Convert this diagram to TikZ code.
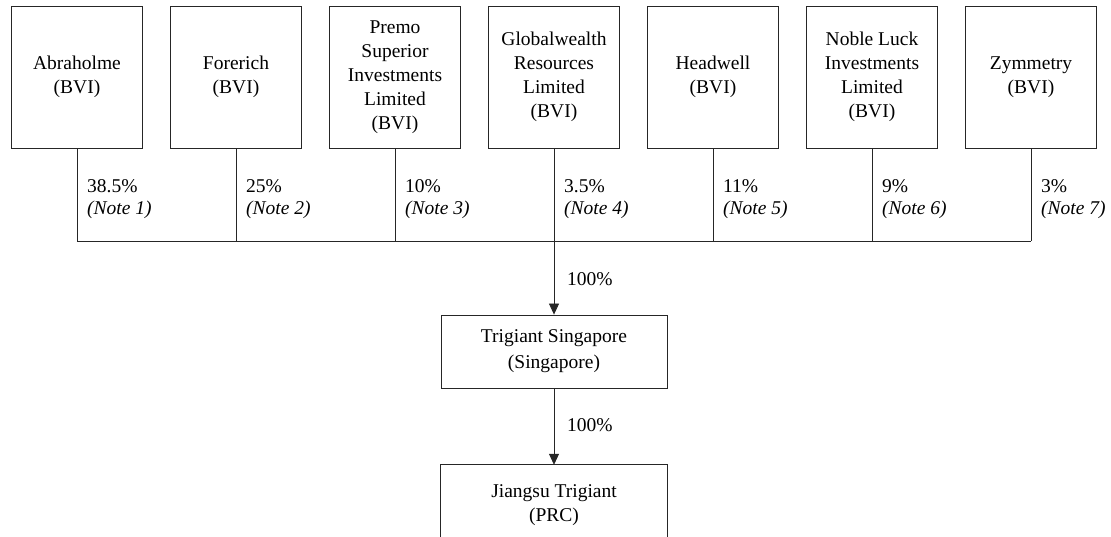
\documentclass[tikz,border=0pt]{standalone}
\usepackage{fontspec}
\setmainfont{Liberation Serif}
\usetikzlibrary{arrows.meta}

\tikzset{
  holder/.style={draw=black!85, line width=0.8pt, minimum width=131pt, minimum height=142pt,
    align=center, inner sep=2pt, font=\fontsize{19.5}{24}\selectfont},
  subbox/.style={minimum width=226pt, minimum height=73pt,
    align=center, inner sep=2pt, font=\fontsize{19.5}{26}\selectfont},
  share/.style={anchor=west, align=left, inner sep=0pt, font=\fontsize{19.5}{22}\selectfont},
  link/.style={draw=black!85, line width=0.8pt},
}

\begin{document}
\begin{tikzpicture}[x=1pt,y=-1pt]
        \useasboundingbox (0,0) rectangle (1111,537);
        % shareholders
        \node[holder] (s1) at (77,77) {Abraholme\\(BVI)};
        \node[holder] (s2) at (236,77) {Forerich\\(BVI)};
        \node[holder] (s3) at (395,77) {Premo\\Superior\\Investments\\Limited\\(BVI)};
        \node[holder] (s4) at (554,77) {Globalwealth\\Resources\\Limited\\(BVI)};
        \node[holder] (s5) at (713,77) {Headwell\\(BVI)};
        \node[holder] (s6) at (872,77) {Noble Luck\\Investments\\Limited\\(BVI)};
        \node[holder] (s7) at (1031,77) {Zymmetry\\(BVI)};
        \coordinate (bus) at (554,241);
        % subsidiaries
        \node[subbox,draw=black!85,line width=0.8pt] (sg) at (554,351.5) {Trigiant Singapore\\(Singapore)};
        \node[subbox,minimum height=80pt,font=\fontsize{19.5}{24}\selectfont] (jt) at (554,505) {Jiangsu Trigiant\\(PRC)};
        \draw[link] (jt.south west) -- (jt.north west) -- (jt.north east) -- (jt.south east);
        % stems and percentages
        \foreach \s/\p/\n in {s1/38.5/1,s2/25/2,s3/10/3,s4/3.5/4,s5/11/5,s6/9/6,s7/3/7} {
          \draw[link] (\s.south) -- (\s.south |- bus);
          \node[share] at ([xshift=10pt,yshift=-51pt]\s.south) {\p\%\\\textit{(Note \n)}};
        }
        \draw[link] (s1.south |- bus) -- (s7.south |- bus);
        \draw[link,-{Triangle[length=11pt,width=10pt]}] (bus) -- (sg.north);
        \draw[link,-{Triangle[length=11pt,width=10pt]}] (sg.south) -- (jt.north);
        \node[share] at (567,279) {100\%};
        \node[share] at (567,425) {100\%};
      \end{tikzpicture}
\end{document}
